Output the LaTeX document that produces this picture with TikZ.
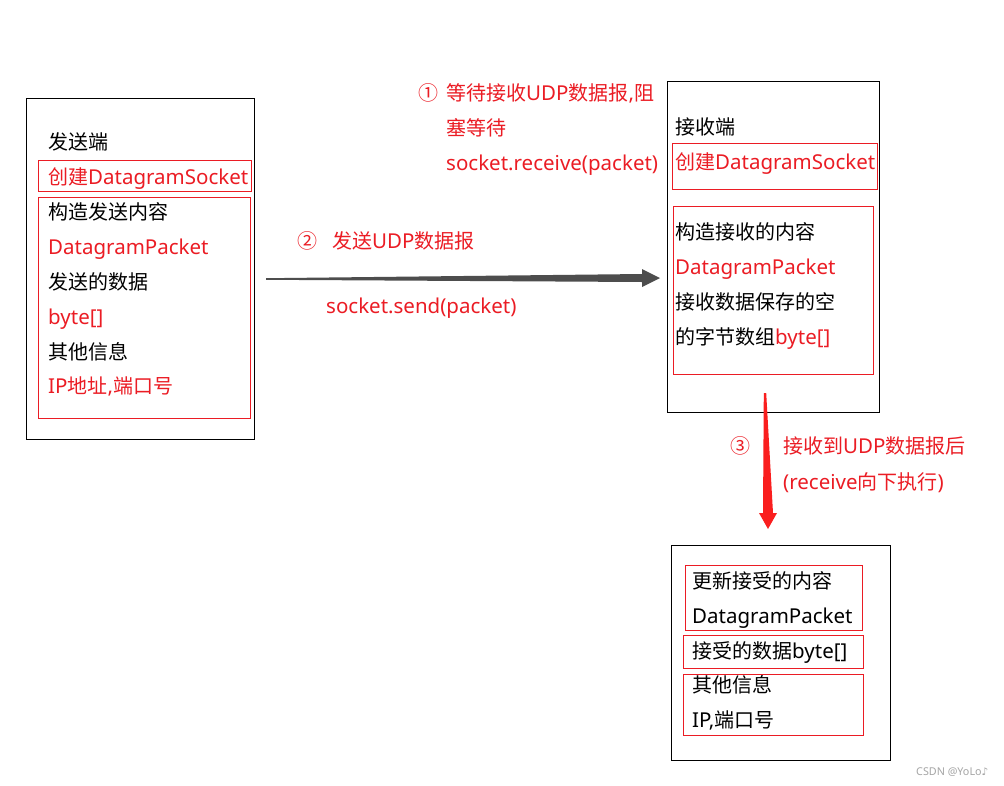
\documentclass[tikz,border=0pt]{standalone}
\usepackage{fontspec}
\setmainfont{Noto Sans}[Scale=1.025]
\newfontfamily\cjk{Noto Sans CJK SC}
\newfontfamily\djv{DejaVu Sans}
\newcommand\zh[1]{{\cjk #1}}
\usetikzlibrary{calc}
\definecolor{cred}{RGB}{235,28,36}
\definecolor{carrow}{RGB}{250,30,30}
\definecolor{cgray}{RGB}{77,77,77}
\definecolor{cmark}{RGB}{165,165,165}
\begin{document}
\begin{tikzpicture}[x=1pt,y=-1pt,
  outer/.style={draw=black,line width=1pt,anchor=north west,inner sep=0},
  redbox/.style={draw=cred,line width=1pt,anchor=north west,inner sep=0},
  txt/.style={anchor=base west,inner sep=0,font=\fontsize{20}{24}\selectfont},
  rtxt/.style={txt,text=cred}]
\useasboundingbox[fill=white] (0,0) rectangle (1004,785);

% sender
\node[outer,minimum width=228pt,minimum height=341pt] (sender) at (26,98) {};
\node[redbox,minimum width=213pt,minimum height=31pt] (sockA) at (37.5,159.5) {};
\node[redbox,minimum width=212pt,minimum height=221pt] (pktA) at (38,197) {};
\node[txt]  (s1) at (48,149) {\zh{发送端}};
\node[rtxt] (s2) at (48,184) {\zh{创建}DatagramSocket};
\node[txt]  (s3) at (48,219) {\zh{构造发送内容}};
\node[rtxt] (s4) at (48,254) {DatagramPacket};
\node[txt]  (s5) at (48,289) {\zh{发送的数据}};
\node[rtxt] (s6) at (48,324) {byte[]};
\node[txt]  (s7) at (48,359) {\zh{其他信息}};
\node[rtxt] (s8) at (48,393) {IP\zh{地址},\zh{端口号}};

% receiver
\node[outer,minimum width=212pt,minimum height=331pt] (recv) at (667,81) {};
\node[redbox,minimum width=205pt,minimum height=46pt] (sockB) at (672,143) {};
\node[redbox,minimum width=200pt,minimum height=168pt] (pktB) at (673,206) {};
\node[txt]  (r1) at (675,134) {\zh{接收端}};
\node[rtxt] (r2) at (675,169) {\zh{创建}DatagramSocket};
\node[txt]  (r3) at (675,239) {\zh{构造接收的内容}};
\node[rtxt] (r4) at (675,274) {DatagramPacket};
\node[txt]  (r5) at (675,309) {\zh{接收数据保存的空}};
\node[txt]  (r6) at (675,344) {\zh{的字节数组}\textcolor{cred}{byte[]}};

% result
\node[outer,minimum width=219pt,minimum height=215pt] (res) at (671,545) {};
\node[redbox,minimum width=177pt,minimum height=65pt] (u1) at (685,565) {};
\node[redbox,minimum width=180pt,minimum height=33pt] (u2) at (683,635) {};
\node[redbox,minimum width=180pt,minimum height=61pt] (u3) at (683,674) {};
\node[txt] (b1) at (692,588) {\zh{更新接受的内容}};
\node[txt] (b2) at (692,623) {DatagramPacket};
\node[txt] (b3) at (692,658) {\zh{接受的数据}byte[]};
\node[txt] (b4) at (692,692) {\zh{其他信息}};
\node[txt] (b5) at (692,727) {IP,\zh{端口号}};

% annotations
\node[rtxt] (n1) at (418,100) {\zh{①}};
\node[rtxt] (t1a) at (446,100) {\zh{等待接收}UDP\zh{数据报},\zh{阻}};
\node[rtxt] (t1b) at (446,135) {\zh{塞等待}};
\node[rtxt] (t1c) at (446,170) {socket.receive(packet)};
\node[rtxt] (n2) at (297,248) {\zh{②}};
\node[rtxt] (t2a) at (332,248) {\zh{发送}UDP\zh{数据报}};
\node[rtxt] (t2b) at (326,313) {socket.send(packet)};
\node[rtxt] (n3) at (730,453) {\zh{③}};
\node[rtxt] (t3a) at (783,453) {\zh{接收到}UDP\zh{数据报后}};
\node[rtxt] (t3b) at (783,489) {(receive\zh{向下执行})};

% arrows
\coordinate (a1s) at (266,279);
\coordinate (a1e) at (660,278);
\fill[cgray] ($(a1s)+(0,-0.8)$) -- ($(a1e)+(-18,-4)$) -- ($(a1e)+(-18,-9)$) -- (a1e)
  -- ($(a1e)+(-18,9)$) -- ($(a1e)+(-18,4)$) -- ($(a1s)+(0,0.8)$) -- cycle;
\coordinate (a2s) at (765,393);
\coordinate (a2e) at (768,529);
\fill[carrow] ($(a2s)+(-1.2,0)$) -- ($(a2e)+(-5,-16)$) -- ($(a2e)+(-9,-16)$) -- (a2e)
  -- ($(a2e)+(9,-16)$) -- ($(a2e)+(5,-16)$) -- ($(a2s)+(1.2,0)$) -- cycle;

% watermark
\node[anchor=base west,inner sep=0,text=cmark,font=\fontsize{10.5}{12}\selectfont] (wm) at (916,775) {CSDN @YoLo{\djv ♪}};
\end{tikzpicture}
\end{document}
